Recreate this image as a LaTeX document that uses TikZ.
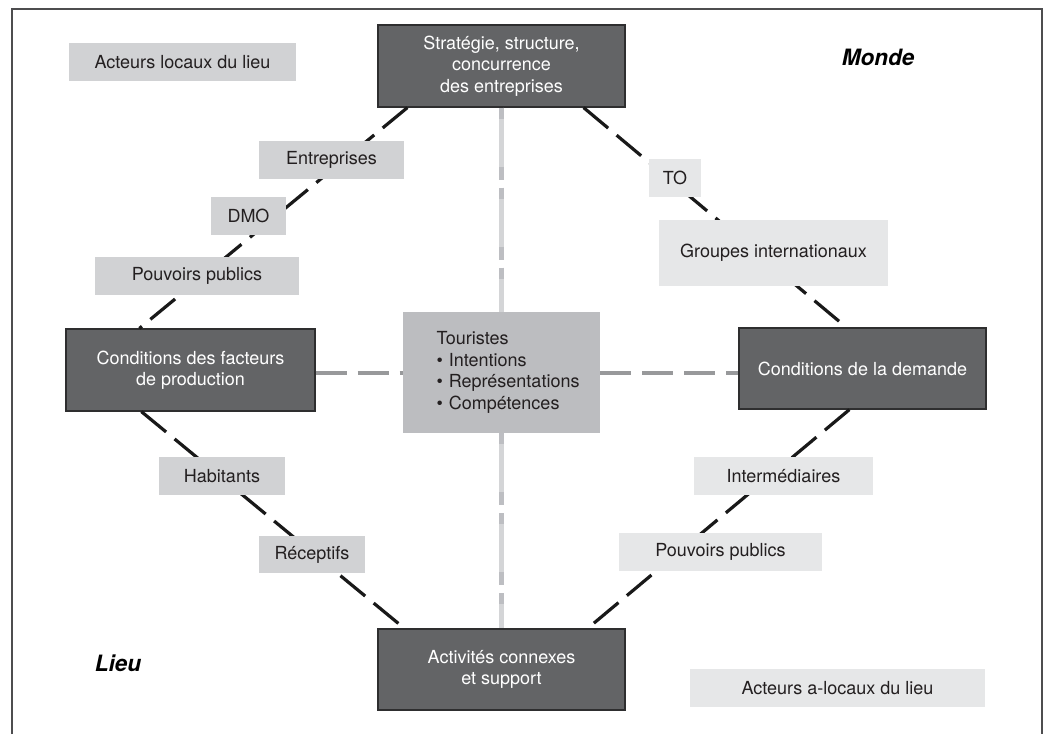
\documentclass[tikz,border=0pt]{standalone}
\usepackage{fontspec}
\setmainfont{TeX Gyre Heros}
\usetikzlibrary{arrows.meta}

\definecolor{boxdark}{HTML}{636466}
\definecolor{boxedge}{HTML}{2E2E2F}
\definecolor{tagdark}{HTML}{D1D2D4}
\definecolor{taglight}{HTML}{E6E7E8}
\definecolor{tourgray}{HTML}{BCBDC0}
\definecolor{linkgray}{HTML}{98999B}
\definecolor{axislight}{HTML}{D4D5D7}
\definecolor{axisdark}{HTML}{BDBEC2}
\definecolor{textdark}{HTML}{231F20}
\definecolor{framegray}{HTML}{4D4D4F}

\tikzset{
  pole/.style={draw=boxedge, line width=1.2pt, fill=boxdark, text=white,
    align=center, minimum width=247pt, minimum height=82pt, inner sep=0pt,
    font=\fontsize{18}{21.5}\selectfont},
  tag/.style={inner sep=0pt, minimum height=38pt, text=textdark,
    font=\fontsize{18}{21.5}\selectfont},
  tagL/.style={tag, fill=tagdark},
  tagR/.style={tag, fill=taglight},
  zone/.style={text=black, font=\fontsize{22.5}{26}\selectfont\bfseries\itshape},
  link/.style={line width=3.2pt, black!90, dash pattern=on 32pt off 11pt},
  tlink/.style={line width=4pt, linkgray, dash pattern=on 31pt off 11pt},
  axe/.style={line width=5pt, axislight, dash pattern=on 72pt off 8pt},
  axeover/.style={line width=5pt, axisdark, dash pattern=on 11pt off 48pt on 13pt off 8pt},
}

\begin{document}
\begin{tikzpicture}[x=1pt,y=-1pt]
    \useasboundingbox (0,0) rectangle (1046,734);
    % frame (open at the bottom)
    \draw[framegray, line width=1.4pt] (12,734) -- (12,9) -- (1042,9) -- (1042,734);

    % the four poles and the tourists
    \node[pole] (strat) at (501.5,66) {Strat\'egie, structure,\\concurrence\\des entreprises};
    \node[pole, minimum width=249pt] (facteurs) at (190.5,370) {Conditions des facteurs\\de production};
    \node[pole, minimum height=81pt] (demande) at (862.5,368.5) {Conditions de la demande};
    \node[pole, minimum height=81pt] (activites) at (501.5,669.5) {Activit\'es connexes\\et support};
    \node[fill=tourgray, text=textdark, text width=130pt, align=left, inner sep=0pt,
      minimum width=197pt, minimum height=121pt,
      font=\fontsize{18}{21.5}\selectfont] (touristes) at (501.5,372.5)
      {Touristes\\\mbox{\textbullet\ Intentions}\\\mbox{\textbullet\ Repr\'esentations}\\\mbox{\textbullet\ Comp\'etences}};

    % vertical axis
    \draw[axe] (strat.south) -- (touristes.north);
    \draw[axeover] (strat.south) -- (touristes.north);
    \draw[axe] (touristes.south) -- (activites.north);
    \draw[axeover] (touristes.south) -- (activites.north);

    % horizontal links
    \draw[tlink] (touristes.west -| facteurs.east) -- (touristes.west);
    \draw[tlink] (touristes.east) -- (touristes.east -| demande.west);

    % diamond links
    \draw[link] ([xshift=30pt]strat.south west) -- ([xshift=74pt]facteurs.north west);
    \draw[link] ([xshift=-42pt]strat.south east) -- ([xshift=108pt]demande.north west);
    \draw[link] ([xshift=76pt]facteurs.south west) -- ([xshift=27pt]activites.north west);
    \draw[link] ([xshift=111pt]demande.south west) -- ([xshift=-38pt]activites.north east);

    % labels on the links
    \node[tagL, minimum width=145pt] (entreprises) at (331.5,160) {Entreprises};
    \node[tagL, minimum width=75pt] (dmo) at (248.5,216) {DMO};
    \node[tagL, minimum width=204pt] (pouvoirsL) at (197,276) {Pouvoirs publics};
    \node[tagR, minimum width=52pt] (to) at (675,178) {TO};
    \node[tagR, minimum width=229pt, minimum height=66pt] (groupes) at (773.5,253) {Groupes internationaux};
    \node[tagL, minimum width=126pt] (habitants) at (222,476) {Habitants};
    \node[tagL, minimum width=106pt, minimum height=37pt] (receptifs) at (312,554.5) {R\'eceptifs};
    \node[tagR, minimum width=179pt] (intermediaires) at (783.5,476) {Interm\'ediaires};
    \node[tagR, minimum width=203pt] (pouvoirsR) at (720.5,552) {Pouvoirs publics};

    % actors and zones
    \node[tagL, minimum width=227pt] (locaux) at (182.5,62) {Acteurs locaux du lieu};
    \node[tagR, minimum width=295pt] (alocaux) at (837.5,688) {Acteurs a-locaux du lieu};
    \node[zone] (monde) at (878,57) {Monde};
    \node[zone] (lieu) at (118,663) {Lieu};
\end{tikzpicture}
\end{document}
